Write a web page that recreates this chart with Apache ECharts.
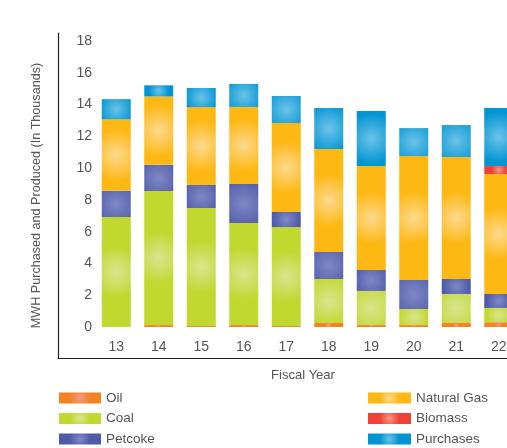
<!DOCTYPE html>
<html>
<head>
<meta charset="utf-8">
<script src="https://cdn.jsdelivr.net/npm/echarts@6/dist/echarts.min.js"></script>
<style>
html,body{margin:0;padding:0;background:#fff;}
#chart{width:507px;height:448px;}
</style>
</head>
<body>
<div id="chart"></div>
<script>
var categories = ['13','14','15','16','17','18','19','20','21','22'];
var oil        = [0, 0.12, 0.06, 0.12, 0.06, 0.25, 0.12, 0.12, 0.25, 0.3];
var coal       = [6.92, 8.44, 7.43, 6.43, 6.23, 2.77, 2.15, 1.01, 1.83, 0.9];
var petcoke    = [1.65, 1.65, 1.45, 2.45, 0.95, 1.7, 1.32, 1.83, 0.94, 0.88];
var naturalGas = [4.5, 4.3, 4.9, 4.85, 5.6, 6.48, 6.54, 7.8, 7.68, 7.55];
var biomass    = [0, 0, 0, 0, 0, 0, 0, 0, 0, 0.5];
var purchases  = [1.27, 0.7, 1.2, 1.45, 1.7, 2.58, 3.46, 1.76, 2.01, 3.65];
var yTicks = [0, 2, 4, 6, 8, 10, 12, 14, 16, 18];

var FONT = '"Liberation Sans", Arial, sans-serif';
var TXT = '#555';

function rg(base, light) {
  return new echarts.graphic.RadialGradient(0.5, 0.5, 0.9, [
    {offset: 0, color: light},
    {offset: 1, color: base}
  ]);
}

var seriesDefs = [
  {name: 'Oil', data: oil, base: '#F58220', light: '#F59A86'},
  {name: 'Coal', data: coal, base: '#C1D82F', light: '#D9E58E'},
  {name: 'Petcoke', data: petcoke, base: '#4E5BA8', light: '#8088C4'},
  {name: 'Natural Gas', data: naturalGas, base: '#FDB813', light: '#FDD98E'},
  {name: 'Biomass', data: biomass, base: '#EF4136', light: '#F5988A'},
  {name: 'Purchases', data: purchases, base: '#0094D2', light: '#6CC3E8'}
];

var series = seriesDefs.map(function (s) {
  return {
    name: s.name,
    type: 'bar',
    stack: 'total',
    xAxisIndex: 0,
    yAxisIndex: 0,
    barWidth: 29,
    data: s.data,
    itemStyle: {color: rg(s.base, s.light)},
    emphasis: {disabled: true}
  };
});

var legendBase = {
  orient: 'vertical', top: 391, padding: 0, height: 70,
  itemHeight: 11, itemGap: 6.5, icon: 'rect', selectedMode: false,
  textStyle: {fontSize: 13.5, color: TXT, fontFamily: FONT}
};

var chart = echarts.init(document.getElementById('chart'), null, {renderer: 'canvas'});
chart.setOption({
  animation: false,
  backgroundColor: '#fff',
  textStyle: {fontFamily: FONT},
  grid: [
    {left: 95, width: 425, top: 41, bottom: 121, outerBoundsMode: 'none', containLabel: false},
    {left: 58, width: 490, top: 33, bottom: 90, outerBoundsMode: 'none', containLabel: false}
  ],
  xAxis: [
    {
      gridIndex: 0, type: 'category', data: categories,
      axisLine: {show: false}, axisTick: {show: false},
      axisLabel: {margin: 13, fontSize: 14, color: TXT, fontFamily: FONT}
    },
    {
      gridIndex: 1, type: 'value', min: 0, max: 1,
      axisLine: {show: true, onZero: false, lineStyle: {color: '#222', width: 1.2}},
      axisTick: {show: false}, axisLabel: {show: false}, splitLine: {show: false},
      name: 'Fiscal Year', nameLocation: 'middle', nameGap: 11,
      nameTextStyle: {fontSize: 13, color: TXT, fontFamily: FONT}
    }
  ],
  yAxis: [
    {
      gridIndex: 0, type: 'value', min: 0, max: 18, interval: 2,
      axisLine: {show: false}, axisTick: {show: false}, splitLine: {show: false},
      axisLabel: {margin: 3, fontSize: 14, color: TXT, fontFamily: FONT,
        formatter: function (v) { return yTicks.indexOf(v) >= 0 ? String(v) : ''; }}
    },
    {
      gridIndex: 1, type: 'value', min: 0, max: 1,
      axisLine: {show: true, onZero: false, lineStyle: {color: '#222', width: 1.2}},
      axisTick: {show: false}, axisLabel: {show: false}, splitLine: {show: false},
      name: 'MWH Purchased and Produced (In Thousands)', nameLocation: 'middle',
      nameRotate: 90, nameGap: 15,
      nameTextStyle: {fontSize: 12.6, color: TXT, fontFamily: FONT}
    }
  ],
  legend: [
    Object.assign({}, legendBase, {data: ['Oil', 'Coal', 'Petcoke'], left: 59, itemWidth: 42}),
    Object.assign({}, legendBase, {data: ['Natural Gas', 'Biomass', 'Purchases'], left: 368, itemWidth: 43})
  ],
  series: series
});
</script>
</body>
</html>
